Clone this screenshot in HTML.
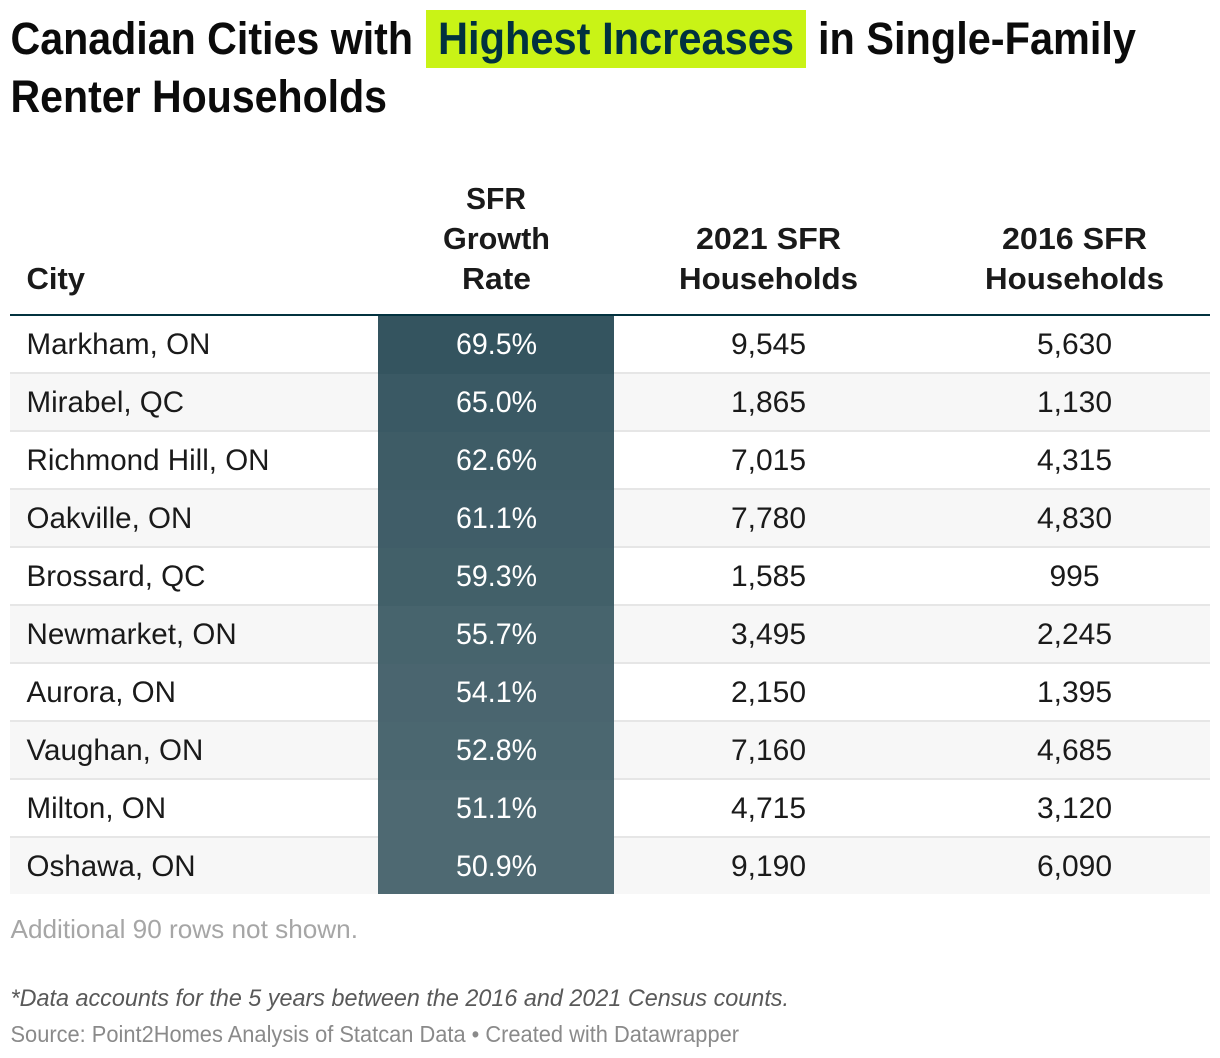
<!DOCTYPE html>
<html lang="en">
<head>
<meta charset="utf-8">
<title>Canadian Cities with Highest Increases in Single-Family Renter Households</title>
<style>
html,body{margin:0;padding:0;background:#fff;width:1220px;height:1058px;overflow:hidden}
svg{display:block}
text{font-family:"Liberation Sans",sans-serif}
.title{font-size:45px;font-weight:700;fill:#0b0b0b}
.head{font-size:31px;font-weight:700;fill:#1a1a1a}
.cell{font-size:30px;fill:#1a1a1a}
.num{text-anchor:middle}
</style>
</head>
<body>
<svg id="chart" width="1220" height="1058" viewBox="0 0 1220 1058" xmlns="http://www.w3.org/2000/svg">
  <rect x="0" y="0" width="1220" height="1058" fill="#ffffff"/>
  <g>
    <rect x="426" y="10" width="380" height="58" fill="#c9f316"/>
    <text class="title" x="10.5" y="54" textLength="402.5" lengthAdjust="spacingAndGlyphs">Canadian Cities with</text>
    <text class="title" x="438" y="54" textLength="356" lengthAdjust="spacingAndGlyphs" style="fill:#00313f">Highest Increases</text>
    <text class="title" x="818" y="54" textLength="318" lengthAdjust="spacingAndGlyphs">in Single-Family</text>
    <text class="title" x="10.5" y="112" textLength="376.5" lengthAdjust="spacingAndGlyphs">Renter Households</text>
  </g>
  <g>
    <text class="head" x="26.5" y="289" textLength="58.5" lengthAdjust="spacingAndGlyphs">City</text>
    <text class="head" x="466" y="209" textLength="60" lengthAdjust="spacingAndGlyphs">SFR</text>
    <text class="head" x="443" y="249" textLength="107" lengthAdjust="spacingAndGlyphs">Growth</text>
    <text class="head" x="462" y="289" textLength="69" lengthAdjust="spacingAndGlyphs">Rate</text>
    <text class="head" x="696" y="249" textLength="145" lengthAdjust="spacingAndGlyphs">2021 SFR</text>
    <text class="head" x="679" y="289" textLength="179" lengthAdjust="spacingAndGlyphs">Households</text>
    <text class="head" x="1002" y="249" textLength="145" lengthAdjust="spacingAndGlyphs">2016 SFR</text>
    <text class="head" x="985" y="289" textLength="179" lengthAdjust="spacingAndGlyphs">Households</text>
    <rect x="10" y="314" width="1200" height="2" fill="#03323f"/>
  </g>
  <g id="rows"></g>
  <g>
    <text x="10.5" y="938" font-size="26" fill="#a6a6a6" textLength="347.5" lengthAdjust="spacingAndGlyphs">Additional 90 rows not shown.</text>
    <text x="10.5" y="1006" font-size="24" font-style="italic" fill="#595959" textLength="778.5" lengthAdjust="spacingAndGlyphs">*Data accounts for the 5 years between the 2016 and 2021 Census counts.</text>
    <text x="10.5" y="1042" font-size="23" fill="#8a8a8a" textLength="728.5" lengthAdjust="spacingAndGlyphs">Source: Point2Homes Analysis of Statcan Data • Created with Datawrapper</text>
  </g>
</svg>
<script>
const cities = ["Markham, ON","Mirabel, QC","Richmond Hill, ON","Oakville, ON","Brossard, QC","Newmarket, ON","Aurora, ON","Vaughan, ON","Milton, ON","Oshawa, ON"];
const growthRates = [69.5,65.0,62.6,61.1,59.3,55.7,54.1,52.8,51.1,50.9];
const households2021 = [9545,1865,7015,7780,1585,3495,2150,7160,4715,9190];
const households2016 = [5630,1130,4315,4830,995,2245,1395,4685,3120,6090];

const NS = "http://www.w3.org/2000/svg";
const rowsGroup = document.getElementById("rows");
const rowTop = i => 316 + i * 58;
const growthMin = Math.min(...growthRates);
const growthMax = Math.max(...growthRates);
function growthColor(v) {
  const t = growthMax === growthMin ? 1 : (v - growthMin) / (growthMax - growthMin);
  const lerp = (a, b) => Math.round(a + (b - a) * t);
  return "rgb(" + lerp(78, 52) + "," + lerp(105, 84) + "," + lerp(114, 95) + ")";
}
function fmt(n) { return n.toLocaleString("en-US"); }
function svgEl(tag, attrs) {
  const el = document.createElementNS(NS, tag);
  for (const k in attrs) el.setAttribute(k, attrs[k]);
  return el;
}
cities.forEach((city, i) => {
  const y = rowTop(i);
  const row = svgEl("g", {});
  
  

  if (i % 2 === 1) {
    const stripe = svgEl("rect", {x: 10, y: y, width: 1200, height: 56, fill: "#f7f7f7"});
    
    
    row.appendChild(stripe);
  }
  if (i < cities.length - 1) {
    const border = svgEl("rect", {x: 10, y: y + 56, width: 1200, height: 2, fill: "#e6e6e6"});
    
    
    row.appendChild(border);
  }
  const heat = svgEl("rect", {x: 378, y: y, width: 236, height: i === cities.length - 1 ? 56 : 58, fill: growthColor(growthRates[i])});
  
  
  row.appendChild(heat);

  const base = y + 38;
  const cityText = svgEl("text", {x: 26.5, y: base, class: "cell"});
  
  
  cityText.textContent = city;
  row.appendChild(cityText);
  rowsGroup.appendChild(row);
  cityText.setAttribute('textLength', cityText.getComputedTextLength() * 0.985);
  cityText.setAttribute('lengthAdjust', 'spacingAndGlyphs');

  const rateText = svgEl("text", {x: 496.5, y: base, class: "cell num", textLength: 81, lengthAdjust: "spacingAndGlyphs", style: "fill:#ffffff"});
  
  
  rateText.textContent = growthRates[i].toFixed(1) + "%";
  row.appendChild(rateText);

  const val21 = svgEl("text", {x: 768.5, y: base, class: "cell num"});
  
  
  val21.textContent = fmt(households2021[i]);
  row.appendChild(val21);

  const val16 = svgEl("text", {x: 1074.5, y: base, class: "cell num"});
  
  
  val16.textContent = fmt(households2016[i]);
  row.appendChild(val16);
});
</script>
</body>
</html>
